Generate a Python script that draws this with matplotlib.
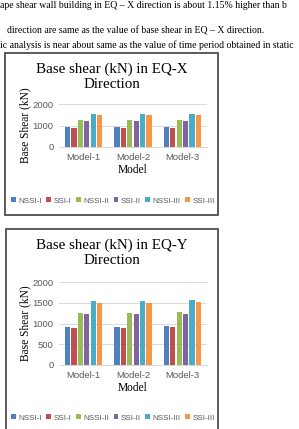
import numpy as np
import matplotlib
matplotlib.use("Agg")
import matplotlib.pyplot as plt
from matplotlib.patches import Rectangle

W, H = 299, 429

modelos = ["Model-1", "Model-2", "Model-3"]
series = ["NSSI-I", "SSI-I", "NSSI-II", "SSI-II", "NSSI-III", "SSI-III"]
cores = ["#4F81BD", "#C0504D", "#9BBB59", "#8064A2", "#4BACC6", "#F79646"]

# base shear (kN), uma lista por série, ordem dos modelos
eqx_nssi1 = [920, 915, 935]
eqx_ssi1 = [895, 890, 905]
eqx_nssi2 = [1245, 1245, 1270]
eqx_ssi2 = [1220, 1215, 1230]
eqx_nssi3 = [1530, 1530, 1550]
eqx_ssi3 = [1495, 1495, 1510]

eqy_nssi1 = [920, 918, 936]
eqy_ssi1 = [897, 892, 905]
eqy_nssi2 = [1246, 1246, 1275]
eqy_ssi2 = [1222, 1218, 1230]
eqy_nssi3 = [1532, 1532, 1555]
eqy_ssi3 = [1500, 1498, 1515]

eqx_ticks = [0, 1000, 2000]
eqy_ticks = [0, 500, 1000, 1500, 2000]

linhas_texto = [
    "ape shear wall building in EQ \u2013 X direction is about 1.15% higher than b",
    "direction are same as the value of base shear in EQ \u2013 X direction.",
    "ic analysis is near about same as the value of time period obtained in static",
]

SERIF = ["Liberation Serif", "DejaVu Serif"]
SANS = ["Liberation Sans", "DejaVu Sans"]


def fx(x):
    return x / W


def fy(y):
    return 1 - y / H


def grafico(fig, caixa, eixo, titulo, dados, yticks, tit_y, leg_y):
    # caixa do gráfico (estilo Excel)
    x0, y0, x1, y1 = caixa
    fig.patches.append(Rectangle((fx(x0), fy(y1)), fx(x1 - x0), (y1 - y0) / H,
                                 transform=fig.transFigure, fill=False,
                                 edgecolor="#4d4d4d", linewidth=1.3))
    l, t, r, b = eixo
    ax = fig.add_axes([fx(l), fy(b), fx(r - l), (b - t) / H])
    x = np.arange(len(modelos))
    passo = 0.13
    for i, (nome, vals) in enumerate(zip(series, dados)):
        ax.bar(x + (i - 2.5) * passo, vals, 0.105, color=cores[i], label=nome, zorder=3)
    ax.set_xlim(-0.5, 2.5)
    ax.set_ylim(0, 2000)
    ax.set_yticks(yticks)
    ax.set_xticks(x)
    ax.set_xticklabels(modelos)
    ax.tick_params(length=0, labelsize=6.8, colors="#595959", pad=4)
    for lab in ax.get_xticklabels() + ax.get_yticklabels():
        lab.set_family(SANS)
    ax.grid(axis="y", color="#d9d9d9", linewidth=0.7, zorder=0)
    for s in ["top", "right", "left"]:
        ax.spines[s].set_visible(False)
    ax.spines["bottom"].set_color("#d9d9d9")
    ax.set_facecolor("none")
    ax.set_ylabel("Base Shear (kN)", family=SERIF, fontsize=8.3, labelpad=1)
    ax.set_xlabel("Model", family=SERIF, fontsize=8.3, labelpad=2)
    fig.text(fx(112), fy(tit_y), titulo, family=SERIF, fontsize=10.8,
             ha="center", va="center", linespacing=1.2)
    fig.legend(*ax.get_legend_handles_labels(), loc="center",
               bbox_to_anchor=(fx(113), fy(leg_y)), ncol=6, frameon=False,
               prop={"family": SANS, "size": 5.8}, handlelength=0.6,
               handleheight=0.6, handletextpad=0.3, columnspacing=0.55,
               labelcolor="#595959")
    return ax


fig = plt.figure(figsize=(W / 100, H / 100), dpi=100)

fig.text(fx(0), fy(5), linhas_texto[0], family=SERIF, fontsize=7, ha="left", va="center")
fig.text(fx(7), fy(31), linhas_texto[1], family=SERIF, fontsize=7, ha="left", va="center")
fig.text(fx(0), fy(45), linhas_texto[2], family=SERIF, fontsize=7, ha="left", va="center")

grafico(fig, (5, 53, 218, 215), (59, 104, 207, 147),
        "Base shear (kN) in EQ-X\nDirection",
        [eqx_nssi1, eqx_ssi1, eqx_nssi2, eqx_ssi2, eqx_nssi3, eqx_ssi3],
        eqx_ticks, 77, 201)

grafico(fig, (6, 229, 218, 440), (59, 282, 207, 365),
        "Base shear (kN) in EQ-Y\nDirection",
        [eqy_nssi1, eqy_ssi1, eqy_nssi2, eqy_ssi2, eqy_nssi3, eqy_ssi3],
        eqy_ticks, 253, 418)

fig.savefig("out.png", dpi=100, facecolor="white")
